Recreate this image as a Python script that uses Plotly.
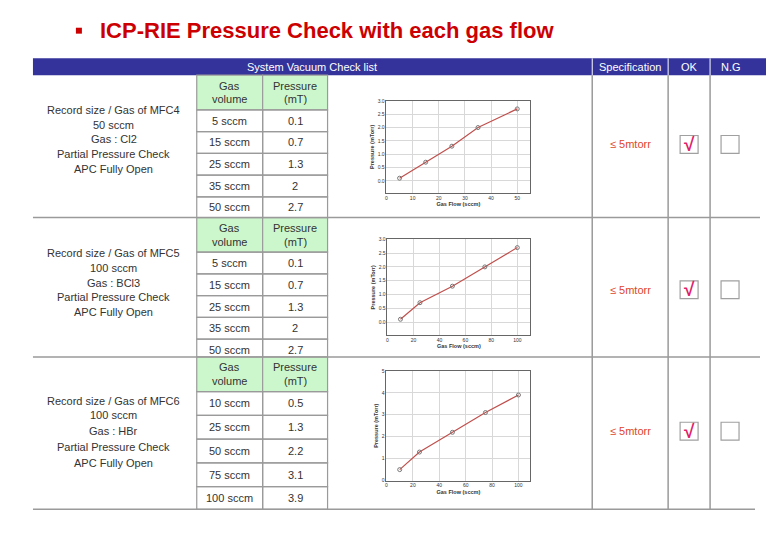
import plotly.graph_objects as go

W, H = 769, 536

# ---------------- data ----------------
title_text = "ICP-RIE Pressure Check with each gas flow"
header_labels = ["System Vacuum Check list", "Specification", "OK", "N.G"]

desc1 = ["Record size / Gas of MFC4", "50 sccm", "Gas : Cl2", "Partial Pressure Check", "APC Fully Open"]
desc2 = ["Record size / Gas of MFC5", "100 sccm", "Gas : BCl3", "Partial Pressure Check", "APC Fully Open"]
desc3 = ["Record size / Gas of MFC6", "100 sccm", "Gas : HBr", "Partial Pressure Check", "APC Fully Open"]

table1_flow = ["5 sccm", "15 sccm", "25 sccm", "35 sccm", "50 sccm"]
table1_press = ["0.1", "0.7", "1.3", "2", "2.7"]
table2_flow = ["5 sccm", "15 sccm", "25 sccm", "35 sccm", "50 sccm"]
table2_press = ["0.1", "0.7", "1.3", "2", "2.7"]
table3_flow = ["10 sccm", "25 sccm", "50 sccm", "75 sccm", "100 sccm"]
table3_press = ["0.5", "1.3", "2.2", "3.1", "3.9"]

chart1_x = [5, 15, 25, 35, 50]
chart1_y = [0.1, 0.7, 1.3, 2.0, 2.7]
chart2_x = [10, 25, 50, 75, 100]
chart2_y = [0.1, 0.7, 1.3, 2.0, 2.7]
chart3_x = [10, 25, 50, 75, 100]
chart3_y = [0.5, 1.3, 2.2, 3.1, 3.9]

spec_text = "≤ 5mtorr"
ok_mark = "√"

# ---------------- helpers ----------------
def px(x):
    return x / W

def py(y):
    return 1 - y / H

fig = go.Figure()
shapes = []
ann = []

GRAY = "#9a9a9a"
FONT = "Liberation Sans, Arial, sans-serif"

def line(x0, y0, x1, y1, color=GRAY, width=1.5):
    shapes.append(dict(type="line", xref="paper", yref="paper",
                       x0=px(x0), y0=py(y0), x1=px(x1), y1=py(y1),
                       line=dict(color=color, width=width), layer="above"))

def rect(x0, y0, x1, y1, fill=None, color=GRAY, width=1.2, layer="above"):
    d = dict(type="rect", xref="paper", yref="paper",
             x0=px(x0), y0=py(y0), x1=px(x1), y1=py(y1),
             line=dict(color=color, width=width), layer=layer)
    if fill:
        d["fillcolor"] = fill
    shapes.append(d)

def text(x, y, s, size=11, color="#222222", bold=False, xanchor="center"):
    if bold:
        s = "<b>" + s + "</b>"
    ann.append(dict(x=px(x), y=py(y), xref="paper", yref="paper", text=s,
                    showarrow=False, xanchor=xanchor, yanchor="middle",
                    font=dict(size=size, color=color, family=FONT)))

# ---------------- title ----------------
rect(75, 25, 81, 31, fill="#cc0000", color="#cc0000", width=0)
text(97, 28, title_text, size=22, color="#cc0000", bold=True, xanchor="left")

# ---------------- header bar ----------------
rect(32, 56, 766, 73, fill="#33339b", color="#33339b", width=0, layer="below")
for xl in [592, 668, 710]:
    line(xl, 56, xl, 73, color="#ffffff", width=1)
text(311, 65, header_labels[0], size=11, color="#ffffff")
text(630, 65, header_labels[1], size=11, color="#ffffff")
text(689, 65, header_labels[2], size=11, color="#ffffff")
text(731, 65, header_labels[3], size=11, color="#ffffff")

# ---------------- table blocks ----------------
blocks = [
    dict(top=73, bot=217, hdr=108, rows=[108, 130, 152, 174, 196, 217],
         desc=desc1, desc_y=[108, 123, 138, 153, 168],
         flow=table1_flow, press=table1_press, spec_y=143),
    dict(top=217, bot=358, hdr=252, rows=[252, 274, 296, 318, 340, 358],
         desc=desc2, desc_y=[253, 268, 283, 297, 312],
         flow=table2_flow, press=table2_press, spec_y=290),
    dict(top=358, bot=512, hdr=393, rows=[393, 417, 441, 465, 489, 512],
         desc=desc3, desc_y=[402, 417, 433, 449, 465],
         flow=table3_flow, press=table3_press, spec_y=433),
]

for b in blocks:
    rect(196, b["top"], 262, b["hdr"], fill="#ccf7cc", color=GRAY, width=1.2)
    rect(262, b["top"], 327, b["hdr"], fill="#ccf7cc", color=GRAY, width=1.2)
    hy = (b["top"] + b["hdr"]) / 2
    text(229, hy - 7, "Gas", size=11, color="#333333")
    text(229, hy + 7, "volume", size=11, color="#333333")
    text(294.5, hy - 7, "Pressure", size=11, color="#333333")
    text(294.5, hy + 7, "(mT)", size=11, color="#333333")
    rows = b["rows"]
    for i in range(5):
        y0, y1 = rows[i], rows[i + 1]
        rect(196, y0, 262, y1, color=GRAY, width=1.2)
        rect(262, y0, 327, y1, color=GRAY, width=1.2)
        cy = (y0 + y1) / 2 + (2 if i == 4 and b is blocks[1] else 0)
        text(229, cy, b["flow"][i], size=11, color="#333333")
        text(294.5, cy, b["press"][i], size=11, color="#333333")
    for s, yy in zip(b["desc"], b["desc_y"]):
        text(113, yy, s, size=11, color="#333333")
    for xl in [592, 668, 710]:
        line(xl, b["top"], xl, b["bot"], color=GRAY, width=1.5)
    text(630, b["spec_y"], spec_text, size=11, color="#e0452a")
    rect(680, b["spec_y"] - 9, 698, b["spec_y"] + 9, color="#a0a0a0", width=1.2)
    rect(721, b["spec_y"] - 9, 739, b["spec_y"] + 9, color="#a0a0a0", width=1.2)
    text(689, b["spec_y"], ok_mark, size=19, color="#e0206a", bold=True)

line(32, 217, 760, 217, width=1.5)
line(32, 358, 760, 358, width=1.5)
line(32, 512, 755, 512, width=1.5)

# ---------------- charts ----------------
charts = [
    dict(x=chart1_x, y=chart1_y, xr=[0, 55], yr=[-0.45, 3.0], xd=(386, 530), yd=(99, 192),
         xt=[0, 10, 20, 30, 40, 50], yt=[0, 0.5, 1.0, 1.5, 2.0, 2.5, 3.0], fmt=".1f"),
    dict(x=chart2_x, y=chart2_y, xr=[0, 110], yr=[-0.48, 3.0], xd=(387, 530), yd=(239, 336),
         xt=[0, 20, 40, 60, 80, 100], yt=[0, 0.5, 1.0, 1.5, 2.0, 2.5, 3.0], fmt=".1f"),
    dict(x=chart3_x, y=chart3_y, xr=[0, 109], yr=[0, 5], xd=(386, 530), yd=(372, 483),
         xt=[0, 20, 40, 60, 80, 100], yt=[0, 1, 2, 3, 4, 5], fmt="d"),
]

layout_axes = {}
for i, c in enumerate(charts, start=1):
    xa = "x" if i == 1 else f"x{i}"
    ya = "y" if i == 1 else f"y{i}"
    fig.add_trace(go.Scatter(x=c["x"], y=c["y"], mode="lines+markers",
                             xaxis=xa, yaxis=ya, showlegend=False,
                             line=dict(color="#c0504d", width=1.2),
                             marker=dict(symbol="circle-open", size=4,
                                         color="#777777", line=dict(width=1))))
    xk = "xaxis" if i == 1 else f"xaxis{i}"
    yk = "yaxis" if i == 1 else f"yaxis{i}"
    layout_axes[xk] = dict(domain=[px(c["xd"][0]), px(c["xd"][1])], range=c["xr"],
                           anchor=ya, tickvals=c["xt"], showgrid=True,
                           gridcolor="#d8d8d8", gridwidth=0.6, zeroline=False,
                           showline=True, linecolor="#666666", linewidth=0.8, mirror=True,
                           ticks="", tickfont=dict(size=5, color="#333333", family=FONT),
                           title=dict(text="<b>Gas Flow (sccm)</b>",
                                      font=dict(size=5.5, color="#333333", family=FONT),
                                      standoff=2))
    layout_axes[yk] = dict(domain=[py(c["yd"][1]), py(c["yd"][0])], range=c["yr"],
                           anchor=xa, tickvals=c["yt"], tickformat=c["fmt"], showgrid=True,
                           gridcolor="#d8d8d8", gridwidth=0.6, zeroline=False,
                           showline=True, linecolor="#666666", linewidth=0.8, mirror=True,
                           ticks="", tickfont=dict(size=5, color="#333333", family=FONT),
                           title=dict(text="<b>Pressure (mTorr)</b>",
                                      font=dict(size=5.5, color="#333333", family=FONT),
                                      standoff=2))

fig.update_layout(
    width=W, height=H,
    margin=dict(l=0, r=0, t=0, b=0),
    paper_bgcolor="#ffffff", plot_bgcolor="#ffffff",
    shapes=shapes, annotations=ann,
    **layout_axes,
)

fig.write_html("out.html")
